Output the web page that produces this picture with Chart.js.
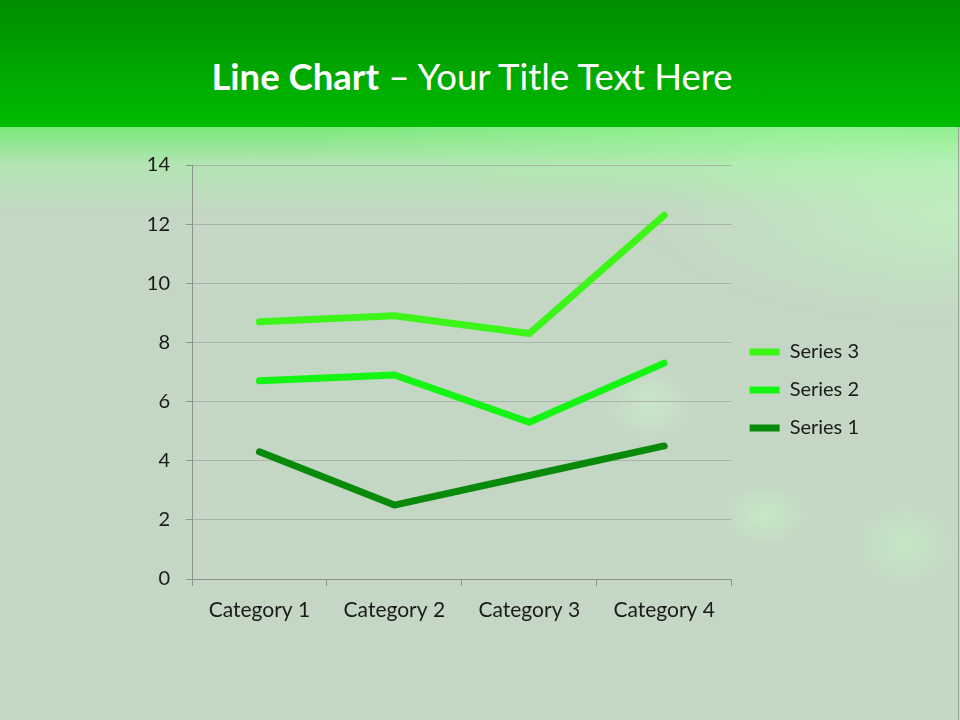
<!DOCTYPE html>
<html>
<head>
<meta charset="utf-8">
<script src="https://cdn.jsdelivr.net/npm/chart.js@4"></script>
<style>
  html, body { margin: 0; padding: 0; }
  body {
    width: 960px; height: 720px; position: relative; overflow: hidden;
    font-family: Lato, "Open Sans", sans-serif;
    background:
      radial-gradient(ellipse 50px 35px at 765px 515px, rgba(200,255,200,0.45), rgba(200,255,200,0) 100%),
      radial-gradient(ellipse 60px 50px at 905px 545px, rgba(200,255,200,0.4), rgba(200,255,200,0) 100%),
      radial-gradient(ellipse 50px 40px at 650px 405px, rgba(210,255,210,0.4), rgba(210,255,210,0) 100%),
      radial-gradient(ellipse 320px 110px at 960px 215px, rgba(190,255,190,0.55), rgba(190,255,190,0) 100%),
      radial-gradient(ellipse 500px 70px at 780px 135px, rgba(170,250,170,0.5), rgba(170,250,170,0) 100%),
      linear-gradient(to bottom, #7be87b 128px, #b4e4b4 165px, #c4d6c4 215px, #c4d6c4 720px);
  }
  #band {
    position: absolute; left: 0; top: 0; width: 960px; height: 127px;
    background: linear-gradient(to bottom, #008c00 0px, #00bd00 127px);
  }
  #title {
    position: absolute; left: 0; top: 52px; width: 944px; text-align: center;
    color: #ffffff; font-size: 36.5px; line-height: 48px; white-space: nowrap;
  }
  #title b { font-weight: 700; }
  #wrap { position: absolute; left: 0; top: 0; width: 960px; height: 720px; }
  #edge { position: absolute; right: 1px; top: 127px; width: 1px; height: 593px; background: #9aa89a; }
</style>
</head>
<body>
<div id="band"></div>
<div id="title"><b>Line Chart</b> – Your Title Text Here</div>
<div id="edge"></div>
<div id="wrap"><canvas id="lineChart"></canvas></div>
<script>
// DATA GRAFIK (LINE CHART BERTUMPUK)
const categories = ['Category 1', 'Category 2', 'Category 3', 'Category 4'];
const series1 = [4.3, 2.5, 3.5, 4.5];
const series2 = [2.4, 4.4, 1.8, 2.8];
const series3 = [2, 2, 3, 5];
const yTicks = [0, 2, 4, 6, 8, 10, 12, 14];

const fontFamily = 'Lato, "Open Sans", sans-serif';

function lineSet(label, data, color) {
    return {
        label: label,
        data: data,
        borderColor: color,
        backgroundColor: color,
        borderWidth: 7,
        borderCapStyle: 'round',
        borderJoinStyle: 'round',
        pointRadius: 0,
        pointHoverRadius: 0,
        pointStyle: 'line',
        tension: 0,
        fill: false,
    };
}

// GESER LEGEND SEDIKIT KE ATAS (SEPERTI DI GAMBAR ASLI)
const legendShift = {
    id: 'legendShift',
    afterLayout(chart) {
        const legend = chart.legend;
        if (!legend) return;
        legend.top -= 12;
        legend.bottom -= 12;
    },
};

// MEMBUAT LINE CHART
function createLineChart() {
    const ctx = document.getElementById('lineChart').getContext('2d');
    return new Chart(ctx, {
        type: 'line',
        data: {
            labels: categories,
            datasets: [
                lineSet('Series 1', series1, '#0a8a0a'),
                lineSet('Series 2', series2, '#14f514'),
                lineSet('Series 3', series3, '#3ef51a'),
            ],
        },
        plugins: [legendShift],
        options: {
            responsive: true,
            maintainAspectRatio: false,
            animation: false,
            layout: {
                padding: { left: 132, top: 165, right: 91, bottom: 81 },
            },
            scales: {
                x: {
                    type: 'category',
                    offset: true,
                    grid: {
                        offset: true,
                        drawOnChartArea: false,
                        drawTicks: true,
                        tickLength: 7,
                        color: '#8a928a',
                    },
                    border: { color: '#8a928a', width: 1 },
                    ticks: {
                        color: '#1a1a1a',
                        font: { family: fontFamily, size: 21 },
                        padding: 12,
                    },
                    afterFit: (scale) => { scale.height = 60; },
                },
                y: {
                    stacked: true,
                    min: 0,
                    max: 14,
                    afterBuildTicks: (scale) => { scale.ticks = yTicks.map(v => ({ value: v })); },
                    grid: {
                        color: '#aab4aa',
                        tickLength: 6,
                        tickColor: '#8a928a',
                    },
                    border: { color: '#8a928a', width: 1 },
                    ticks: {
                        color: '#1a1a1a',
                        font: { family: fontFamily, size: 20 },
                        padding: 16,
                    },
                    afterFit: (scale) => { scale.width = 60; },
                },
            },
            plugins: {
                legend: {
                    display: true,
                    position: 'right',
                    reverse: true,
                    labels: {
                        usePointStyle: true,
                        pointStyle: 'line',
                        pointStyleWidth: 30,
                        boxWidth: 30,
                        boxHeight: 7,
                        padding: 18,
                        color: '#1a1a1a',
                        font: { family: fontFamily, size: 20 },
                    },
                },
                tooltip: { enabled: false },
            },
        },
    });
}
createLineChart();
</script>
</body>
</html>
